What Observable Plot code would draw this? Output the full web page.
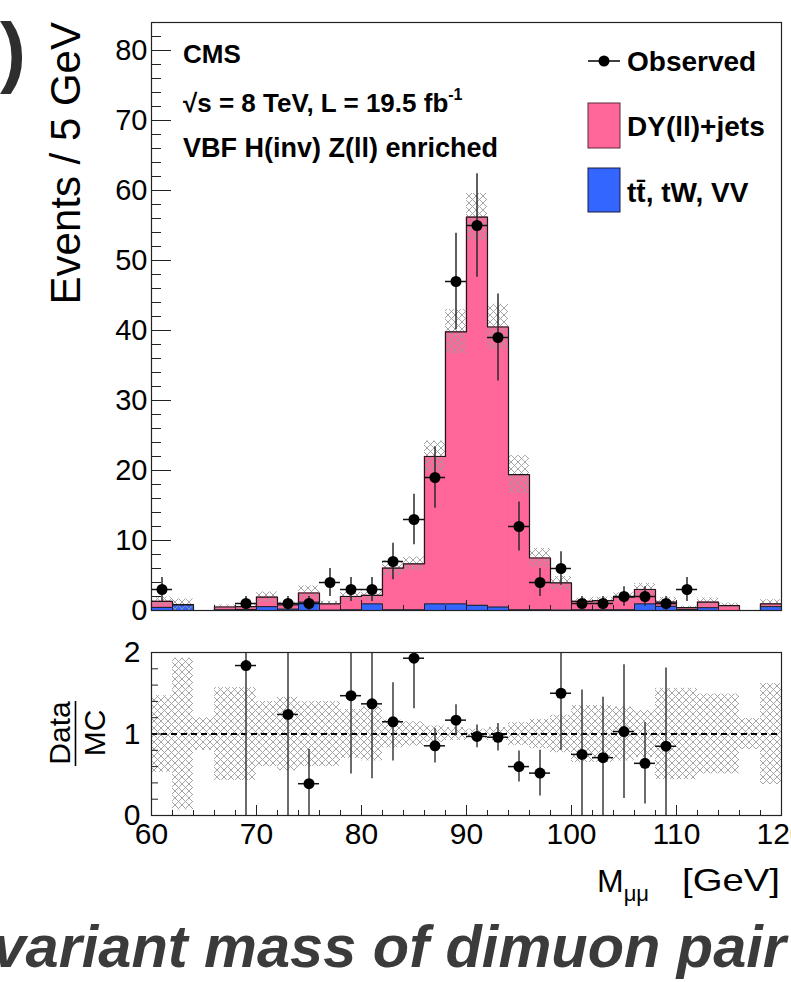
<!DOCTYPE html>
<html><head><meta charset="utf-8">
<script src="https://cdn.jsdelivr.net/npm/d3@7"></script>
<script src="https://cdn.jsdelivr.net/npm/@observablehq/plot@0.6"></script>
<style>
body{margin:0;background:#fff;}
#wrap{position:relative;width:791px;height:982px;overflow:hidden;background:#fff;font-family:"Liberation Sans",Arial,Helvetica,sans-serif;}
#top,#bot{position:absolute;left:0;}
#top{top:0}
#bot{top:630px}
#ann{position:absolute;left:0;top:0;pointer-events:none}
</style></head><body>
<svg width="0" height="0" style="position:absolute"><defs>
<pattern id="xhatch" patternUnits="userSpaceOnUse" width="7" height="7"><path d="M-1,-1L8,8M8,-1L-1,8" stroke="#9c9c9c" stroke-width="0.9" fill="none"/></pattern>
</defs></svg>
<div id="wrap"><div id="top"></div><div id="bot"></div>
<svg id="ann" width="791" height="982" font-family="Liberation Sans, Arial, Helvetica, sans-serif">
  <text x="0" y="78" font-size="78" font-weight="bold" fill="#2e2e2e">)</text>
  <text transform="translate(80,22) rotate(-90)" text-anchor="end" font-size="42" fill="#000">Events / 5 GeV</text>
  <text x="183" y="63" font-size="26" font-weight="bold">CMS</text>
  <text x="183" y="112" font-size="26" font-weight="bold">√s = 8 TeV, L = 19.5 fb<tspan font-size="16" dy="-12">-1</tspan></text>
  <text x="183" y="157" font-size="27" font-weight="bold">VBF H(inv) Z(ll) enriched</text>
  <line x1="588" y1="61" x2="620" y2="61" stroke="#000" stroke-width="1.5"/>
  <circle cx="604" cy="61" r="5.5" fill="#000"/>
  <text x="627" y="71" font-size="28" font-weight="bold">Observed</text>
  <rect x="588" y="103" width="32" height="45" fill="#ff6699" stroke="#5a2a3a" stroke-width="1"/>
  <text x="627" y="136" font-size="28" font-weight="bold">DY(ll)+jets</text>
  <rect x="588" y="168" width="32" height="44" fill="#3366ff" stroke="#1a1a40" stroke-width="1"/>
  <text x="627" y="202" font-size="28" font-weight="bold">tt̄, tW, VV</text>
  <text transform="translate(70,733) rotate(-90)" text-anchor="middle" font-size="30">Data</text>
  <line x1="75.5" y1="701" x2="75.5" y2="766" stroke="#000" stroke-width="1.6"/>
  <text transform="translate(105,733) rotate(-90)" text-anchor="middle" font-size="30">MC</text>
  <text x="597" y="892" font-size="32">M<tspan font-size="22" dy="9">μμ</tspan></text>
  <text x="682" y="891" font-size="32" textLength="98" lengthAdjust="spacingAndGlyphs">[GeV]</text>
  <text x="786" y="967" text-anchor="end" font-size="59.5" font-weight="bold" font-style="italic" fill="#3b3b3b">Invariant mass of dimuon pair</text>
</svg>
</div>
<script>
// ---- data ----
const binEdges = [60,62,64,66,68,70,72,74,76,78,80,82,84,86,88,90,92,94,96,98,100,102,104,106,108,110,112,114,116,118,120];
const binCenters = [61,63,65,67,69,71,73,75,77,79,81,83,85,87,89,91,93,95,97,99,101,103,105,107,109,111,113,115,117,119];
const dyJets =    [0.85,0.05,0,0.4,0.4,1.35,0.6,1.3,0.9,1.9,1.2,5.95,6.57,21.05,38.85,55.45,40.0,19.3,7.4,3.9,1.2,1.3,1.8,2.05,0.6,0.25,0.8,0.7,0,0.4];
const otherBkg =  [0.45,0.8,0,0.1,0.15,0.55,0.2,1.2,0.05,0.1,0.95,0.1,0.1,0.95,0.95,0.75,0.5,0.1,0.1,0.05,0.1,0.1,0.1,0.95,0.6,0.15,0.4,0,0,0.55];
const mcRelUnc =  [0.47,0.93,0.2,0.57,0.57,0.4,0.45,0.4,0.4,0.3,0.33,0.17,0.15,0.1,0.08,0.06,0.08,0.14,0.18,0.23,0.35,0.35,0.33,0.29,0.56,0.56,0.49,0.49,0.19,0.62];
const obsMass =   [61,69,73,75,77,79,81,83,85,87,89,91,93,95,97,99,101,103,105,107,109,111];
const obsEvents = [3,1,1,1,4,3,3,7,13,19,47,55,39,12,4,6,1,1,2,2,1,3];
const obsErr =    [1.7,1,1,1,2,1.7,1.7,2.6,3.6,4.4,6.9,7.4,6.2,3.5,2,2.4,1,1,1.4,1.4,1,1.7];
const ratioMass = [69,73,75,79,81,83,85,87,89,91,93,95,97,99,101,103,105,107,109];
const ratioValue= [1.84,1.24,0.39,1.47,1.37,1.15,1.93,0.855,1.17,0.97,0.96,0.60,0.52,1.50,0.75,0.71,1.03,0.64,0.85];
const ratioErr =  [1.84,1.25,0.42,0.96,0.92,0.48,0.62,0.21,0.19,0.14,0.17,0.19,0.28,0.7,0.79,0.74,0.82,0.5,0.96];
const yTicksMajor = [0,10,20,30,40,50,60,70,80];
const yTicksMinor = [2,4,6,8,12,14,16,18,22,24,26,28,32,34,36,38,42,44,46,48,52,54,56,58,62,64,66,68,72,74,76,78,82,84];
const xTicksMajor = [60,70,80,90,100,110,120];
const xTicksMinor = [62,64,66,68,72,74,76,78,82,84,86,88,92,94,96,98,102,104,106,108,112,114,116,118];
const rTicksMajor = [0,1,2];
const rTicksMinor = [0.2,0.4,0.6,0.8,1.2,1.4,1.6,1.8];

const PINK = "#ff6699", BLUE = "#3366ff";
const FONT = "Liberation Sans, Arial, Helvetica, sans-serif";
const ML = 151, MR = 10, W = 791;
const FW = W - ML - MR;

const bins = binCenters.map((c,i)=>({c, lo:binEdges[i], hi:binEdges[i+1], other:otherBkg[i], top:otherBkg[i]+dyJets[i], unc:mcRelUnc[i]}));
const steps = key => bins.flatMap(b=>[{x:b.lo,y:b[key]},{x:b.hi,y:b[key]}]);
const half = (binEdges[1]-binEdges[0])/2;
const obs = obsMass.map((m,i)=>({m, n:obsEvents[i], e:obsErr[i]}));
const ratio = ratioMass.map((m,i)=>({m, v:ratioValue[i], e:ratioErr[i]}));

const H1 = 630, MT1 = 22, MB1 = 20, FH1 = H1 - MT1 - MB1;
const topPlot = Plot.plot({
  width: W, height: H1, marginLeft: ML, marginRight: MR, marginTop: MT1, marginBottom: MB1,
  x: {domain: [60,120], axis: null},
  y: {domain: [0,84], axis: null},
  style: {fontFamily: FONT, color: "#000", background: "transparent", overflow: "visible"},
  marks: [
    Plot.rectY(bins, {x1:"lo", x2:"hi", y1:0, y2:"other", fill:BLUE, stroke:BLUE, strokeWidth:0.4}),
    Plot.rectY(bins, {x1:"lo", x2:"hi", y1:"other", y2:"top", fill:PINK, stroke:PINK, strokeWidth:0.4}),
    Plot.rectY(bins.filter(b=>b.top>0), {x1:"lo", x2:"hi", y1:b=>b.top*(1-b.unc), y2:b=>b.top*(1+b.unc), fill:"url(#xhatch)"}),
    Plot.line(steps("other"), {x:"x", y:"y", stroke:"#1a1a1a", strokeWidth:1}),
    Plot.line(steps("top"), {x:"x", y:"y", stroke:"#1a1a1a", strokeWidth:1.2}),
    Plot.ruleY(yTicksMinor, {y:d=>d, insetRight: FW-10, stroke:"#222"}),
    Plot.ruleY(yTicksMajor, {y:d=>d, insetRight: FW-20, stroke:"#222"}),
    Plot.ruleX(xTicksMinor, {x:d=>d, insetTop: FH1-5, stroke:"#222"}),
    Plot.ruleX(xTicksMajor, {x:d=>d, insetTop: FH1-10, stroke:"#222"}),
    Plot.ruleX(obs, {x:"m", y1:d=>d.n-d.e, y2:d=>d.n+d.e, stroke:"#2a2a2a", strokeWidth:1.5}),
    Plot.ruleY(obs, {y:"n", x1:d=>d.m-half, x2:d=>d.m+half, stroke:"#111", strokeWidth:1.5}),
    Plot.dot(obs, {x:"m", y:"n", r:5.5, fill:"#000", stroke:"none"}),
    Plot.axisY({ticks: yTicksMajor, anchor:"left", tickSize:0, tickPadding:4, fontSize:29, label:null}),
    Plot.frame({stroke:"#222", strokeWidth:1.2})
  ]
});
document.getElementById("top").appendChild(topPlot);

const H2 = 260, MT2 = 22, MB2 = 75, FH2 = H2 - MT2 - MB2;
const rbins = binCenters.map((c,i)=>({lo:binEdges[i], hi:binEdges[i+1], unc:mcRelUnc[i]}));
const botPlot = Plot.plot({
  width: W, height: H2, marginLeft: ML, marginRight: MR, marginTop: MT2, marginBottom: MB2,
  x: {domain: [60,120], axis: null},
  y: {domain: [0,2], axis: null},
  style: {fontFamily: FONT, color: "#000", background: "transparent", overflow: "visible"},
  marks: [
    Plot.rectY(rbins, {x1:"lo", x2:"hi", y1:b=>1-b.unc, y2:b=>1+b.unc, fill:"url(#xhatch)", clip:true}),
    Plot.ruleY([1], {stroke:"#000", strokeWidth:2, strokeDasharray:"6,4"}),
    Plot.ruleY(rTicksMinor, {y:d=>d, insetRight: FW-7, stroke:"#222"}),
    Plot.ruleY(rTicksMajor, {y:d=>d, insetRight: FW-12, stroke:"#222"}),
    Plot.ruleX(xTicksMinor, {x:d=>d, insetTop: FH2-5, stroke:"#222"}),
    Plot.ruleX(xTicksMajor, {x:d=>d, insetTop: FH2-10, stroke:"#222"}),
    Plot.ruleX(ratio, {x:"m", y1:d=>d.v-d.e, y2:d=>d.v+d.e, stroke:"#3a3a3a", strokeWidth:1.5, clip:true}),
    Plot.ruleY(ratio, {y:"v", x1:d=>d.m-half, x2:d=>d.m+half, stroke:"#111", strokeWidth:1.5}),
    Plot.dot(ratio, {x:"m", y:"v", r:5.5, fill:"#000", stroke:"none"}),
    Plot.axisY({ticks: rTicksMajor, anchor:"left", tickSize:0, tickPadding:11, fontSize:30, tickFormat:d=>String(d), label:null}),
    Plot.axisX({ticks: xTicksMajor, anchor:"bottom", tickSize:0, tickPadding:7, fontSize:30, tickFormat:d=>String(d), label:null}),
    Plot.frame({stroke:"#222", strokeWidth:1.2})
  ]
});
document.getElementById("bot").appendChild(botPlot);
</script>
</body></html>
